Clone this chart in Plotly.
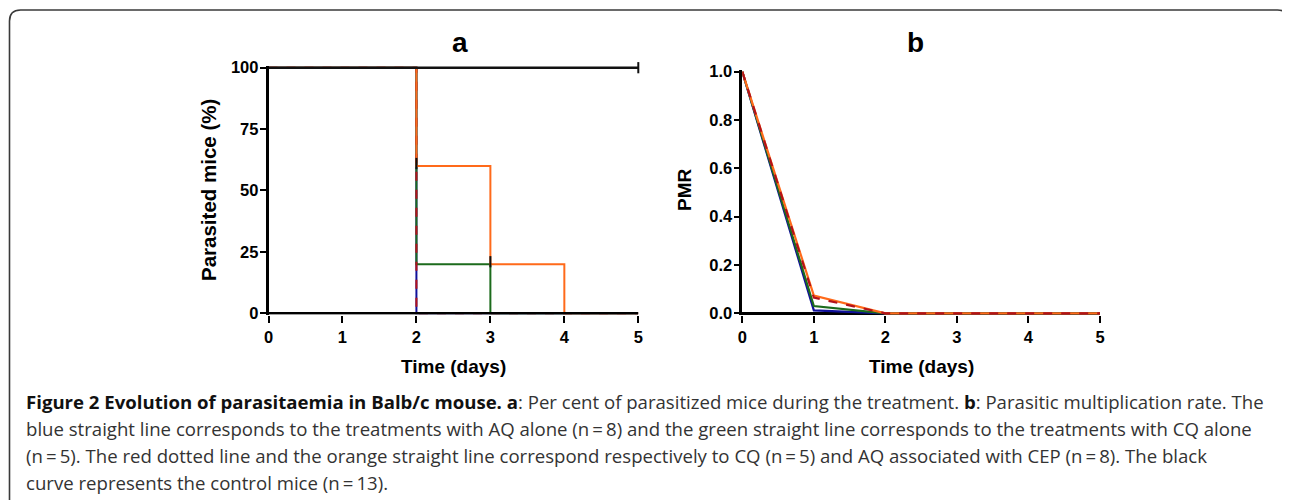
import plotly.graph_objects as go

# ---------------- data ----------------
days = [0, 1, 2, 3, 4, 5]
tick_days = [0, 1, 2, 3, 4, 5]

# Panel a: per cent of parasitized mice (step curves)
a_aq = [100, 100, 0, 0, 0, 0]          # AQ alone (blue)
a_cq = [100, 100, 20, 0, 0, 0]         # CQ alone (green)
a_cq_cep = [100, 100, 0, 0, 0, 0]      # CQ + CEP (red dotted)
a_aq_cep = [100, 100, 60, 20, 0, 0]    # AQ + CEP (orange)
a_control = [100, 100, 100, 100, 100, 100]  # control (black)
a_yticks = [0, 25, 50, 75, 100]
censor_x = [2, 3, 5]
censor_y = [61, 21, 100]

# Panel b: parasitic multiplication rate
b_aq = [1.0, 0.012, 0.0, 0.0, 0.0, 0.0]
b_cq = [1.0, 0.03, 0.0, 0.0, 0.0, 0.0]
b_cq_cep = [1.0, 0.065, 0.0, 0.0, 0.0, 0.0]
b_aq_cep = [1.0, 0.073, 0.0, 0.0, 0.0, 0.0]
b_yticks = [0.0, 0.2, 0.4, 0.6, 0.8, 1.0]
b_yticklabels = ["0.0", "0.2", "0.4", "0.6", "0.8", "1.0"]

BLUE = "#10109a"
GREEN = "#1c6b1c"
RED = "#b3121a"
ORANGE = "#ff6a1a"
BLACK = "#111111"

W, H = 1290, 500
OFF = 8  # page body margin offset


def px(x):
    return (x - OFF) / W


def py(y):
    return 1 - (y - OFF) / H


fig = go.Figure()

# ---------- panel a ----------
def add_a(y, color, dash="solid", width=2.0):
    fig.add_trace(go.Scatter(x=days, y=y, mode="lines", line_shape="hv",
                             line=dict(color=color, width=width, dash=dash),
                             xaxis="x", yaxis="y", showlegend=False))


add_a(a_aq, BLUE)
add_a(a_cq, GREEN)
add_a(a_cq_cep, RED, dash="dash")
add_a(a_aq_cep, ORANGE)
add_a(a_control, BLACK, width=2.4)
fig.add_trace(go.Scatter(x=censor_x, y=censor_y, mode="markers",
                         marker=dict(symbol="line-ns", size=8,
                                     line=dict(color=BLACK, width=2)),
                         cliponaxis=False, xaxis="x", yaxis="y", showlegend=False))

# ---------- panel b ----------
def add_b(y, color, dash="solid", width=2.2):
    fig.add_trace(go.Scatter(x=days, y=y, mode="lines",
                             line=dict(color=color, width=width, dash=dash),
                             xaxis="x2", yaxis="y2", showlegend=False))


add_b(b_aq, BLUE)
add_b(b_cq, GREEN)
add_b(b_aq_cep, ORANGE)
add_b(b_cq_cep, RED, dash="dash")

tickfont = dict(family="Liberation Sans, Arial, sans-serif", size=16.5,
                color="#000000", weight="bold")
axis_common = dict(linecolor="#000000", linewidth=2.5,
                   ticks="outside", tickwidth=2, tickcolor="#000000",
                   showgrid=False, tickfont=tickfont, automargin=False,
                   fixedrange=True)

# panel a geometry (reference pixels): x 0->268.5, 5->638.3 ; y 0->313.3, 100->67.7
a_scale = (313.3 - 67.7) / 100
a_top_val = 100.8
a_bot_val = -0.6
fig.update_layout(
    xaxis=dict(domain=[px(268.5), px(638.3)], range=[0, 5], anchor="y",
               tickvals=tick_days, showline=False, zeroline=False, ticklen=7,
               **axis_common),
    yaxis=dict(domain=[py(313.3 - a_scale * a_bot_val), py(313.3 - a_scale * a_top_val)],
               range=[a_bot_val, a_top_val], anchor="x", tickvals=a_yticks,
               showline=True, zeroline=False, ticklen=6, ticklabelstandoff=-2,
               **axis_common),
)
# panel b geometry: x 0->742.3, 5->1100 ; y 0->313.3, 1.0->71.7
b_scale = (313.3 - 71.7)
b_top_val = 1.006
b_bot_val = -1.6 / b_scale
fig.update_layout(
    xaxis2=dict(domain=[px(742.3), px(1100)], range=[0, 5], anchor="y2",
                tickvals=tick_days, showline=False, zeroline=False, ticklen=7,
                **axis_common),
    yaxis2=dict(domain=[py(313.3 - b_scale * b_bot_val), py(313.3 - b_scale * b_top_val)],
                range=[b_bot_val, b_top_val], anchor="x2", tickvals=b_yticks,
                ticktext=b_yticklabels, showline=True, zeroline=True,
                zerolinecolor="#000000", zerolinewidth=2.5, ticklen=6,
                ticklabelstandoff=-2, **axis_common),
)

# x-axis line of panel a drawn above the traces (hides curves that reach 0)
shapes = [dict(type="line", xref="x", yref="y", x0=0, x1=5, y0=0, y1=0,
               line=dict(color="#000000", width=2.5), layer="above")]

bold = dict(family="Liberation Sans, Arial, sans-serif", color="#000000")
annotations = [
    dict(text="<b>a</b>", x=px(460), y=py(42), font=dict(size=28, **bold)),
    dict(text="<b>b</b>", x=px(915), y=py(42), font=dict(size=28, **bold)),
    dict(text="<b>Time (days)</b>", x=px(453), y=py(366), font=dict(size=19, **bold)),
    dict(text="<b>Time (days)</b>", x=px(921), y=py(366), font=dict(size=19, **bold)),
    dict(text="<b>Parasited mice (%)</b>", x=px(208), y=py(190), textangle=-90,
         font=dict(size=20.5, **bold)),
    dict(text="<b>PMR</b>", x=px(684), y=py(190), textangle=-90,
         font=dict(size=19, **bold)),
]
for a in annotations:
    a.update(xref="paper", yref="paper", showarrow=False,
             xanchor="center", yanchor="middle")

cap_font = dict(family="Open Sans, sans-serif", size=18.6, color="#333333")
caption_lines = [
    "<b style='color:#111'>Figure 2 Evolution of parasitaemia in Balb/c mouse. a</b>: Per cent of parasitized mice during the treatment. <b style='color:#111'>b</b>: Parasitic multiplication rate. The",
    "blue straight line corresponds to the treatments with AQ alone (n\u2009=\u20098) and the green straight line corresponds to the treatments with CQ alone",
    "(n\u2009=\u20095). The red dotted line and the orange straight line correspond respectively to CQ (n\u2009=\u20095) and AQ associated with CEP (n\u2009=\u20098). The black",
    "curve represents the control mice (n\u2009=\u200913).",
]
cap_y = [401, 428, 455, 482]
for t, yy in zip(caption_lines, cap_y):
    annotations.append(dict(text=t, x=px(24), y=py(yy), xref="paper", yref="paper",
                            showarrow=False, xanchor="left", yanchor="middle",
                            font=cap_font, align="left"))

# rounded border of the figure box
r = 11
x0, y0, x1, y1 = 9.5, 10, 1288.5, 520
path = (f"M {px(x0)},{py(y1)} L {px(x0)},{py(y0 + r)} "
        f"Q {px(x0)},{py(y0)} {px(x0 + r)},{py(y0)} "
        f"L {px(x1 - r)},{py(y0)} Q {px(x1)},{py(y0)} {px(x1)},{py(y0 + r)} "
        f"L {px(x1)},{py(y1)}")
shapes.append(dict(type="path", path=path, xref="paper", yref="paper",
                   line=dict(color="#3a3a3a", width=1.6), layer="below"))

fig.update_layout(width=W, height=H, margin=dict(l=0, r=0, t=0, b=0, pad=0),
                  paper_bgcolor="white", plot_bgcolor="white",
                  annotations=annotations, shapes=shapes, showlegend=False)

fig.write_html("out.html", config={"displayModeBar": False})
